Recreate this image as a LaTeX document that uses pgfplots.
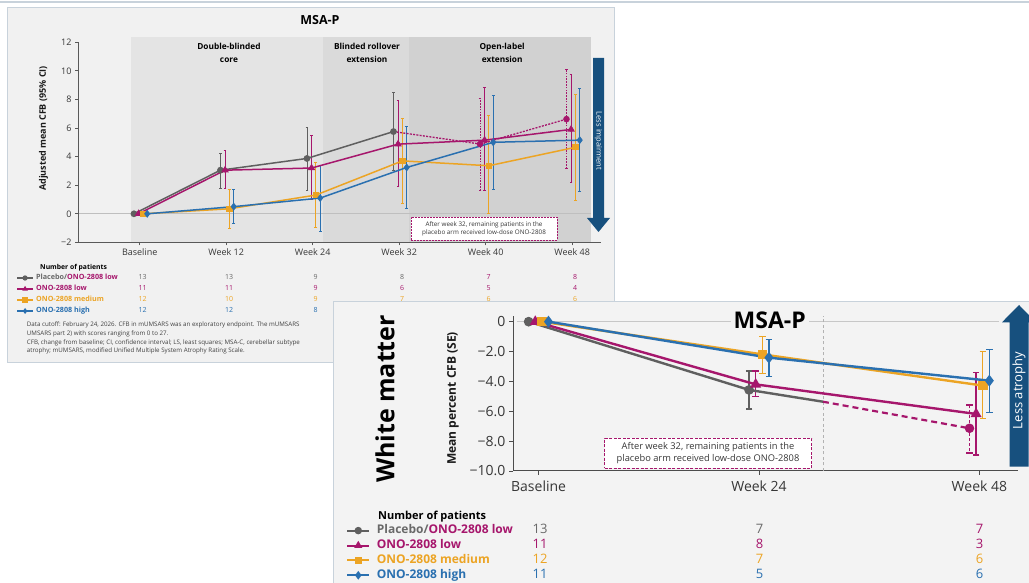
\documentclass[border=0pt]{standalone}
\usepackage{fontspec}
\setmainfont{Open Sans}
\usepackage{pgfplots}
\pgfplotsset{compat=1.18}
\definecolor{cgrey}{RGB}{95,95,95}
\definecolor{cmag}{RGB}{166,22,108}
\definecolor{corg}{RGB}{236,164,36}
\definecolor{cblu}{RGB}{42,112,176}
\definecolor{carr}{RGB}{23,80,126}
\definecolor{pbgA}{RGB}{241,241,241}
\definecolor{pbgB}{RGB}{243,243,243}
\definecolor{shA}{RGB}{228,228,228}
\definecolor{shB}{RGB}{218,218,218}
\definecolor{shC}{RGB}{209,209,209}
\definecolor{bord}{RGB}{200,210,219}
\definecolor{txt}{RGB}{55,55,55}
\definecolor{ltxt}{RGB}{105,105,105}
\pgfplotsset{
  errA/.style={/pgfplots/error bars/y dir=both, /pgfplots/error bars/y explicit,
    /pgfplots/error bars/error bar style={line width=0.8pt, solid},
    /pgfplots/error bars/error mark options={rotate=90, mark size=1.4pt, line width=0.8pt, solid}},
  errAd/.style={/pgfplots/error bars/y dir=both, /pgfplots/error bars/y explicit,
    /pgfplots/error bars/error bar style={line width=0.8pt, dash pattern=on 1.6pt off 1.2pt},
    /pgfplots/error bars/error mark options={rotate=90, mark size=1.4pt, line width=0.8pt, solid}},
  errB/.style={/pgfplots/error bars/y dir=both, /pgfplots/error bars/y explicit,
    /pgfplots/error bars/error bar style={line width=1.3pt, solid},
    /pgfplots/error bars/error mark options={rotate=90, mark size=3.2pt, line width=1.3pt, solid}},
  errBd/.style={/pgfplots/error bars/y dir=both, /pgfplots/error bars/y explicit,
    /pgfplots/error bars/error bar style={line width=1.3pt, dash pattern=on 3pt off 2pt},
    /pgfplots/error bars/error mark options={rotate=90, mark size=3.2pt, line width=1.3pt, solid}},
}
\begin{document}
\begin{tikzpicture}[x=1pt,y=1pt]
\path[use as bounding box] (0pt,0pt) rectangle (1029pt,583pt);
\fill[white] (0pt,0pt) rectangle (1029pt,583pt);
\draw[line width=1.5pt, color=bord] (0pt,581.2pt) -- (1029pt,581.2pt);
\filldraw[fill=pbgA, draw=bord, line width=0.9pt] (7pt,576pt) rectangle (614pt,221pt);

% ================= PANEL 1 =================
\begin{axis}[
  at={(78pt,340.6pt)}, anchor=south west, scale only axis,
  width=523pt, height=200.2pt,
  xmin=-0.713, xmax=5.333, ymin=-2, ymax=12,
  axis x line*=bottom, axis y line*=left,
  axis line style={draw=black!65, line width=0.8pt},
  xtick={0,...,5}, xticklabels={Baseline,Week 12,Week 24,Week 32,Week 40,Week 48},
  ytick={-2,0,2,4,6,8,10,12}, yticklabels={−2,0,2,4,6,8,10,12},
  tick align=outside, major tick length=3pt,
  tick style={draw=black!65, line width=0.7pt},
  tick label style={font=\fontsize{9}{10}\selectfont, text=txt},
  clip=false,
  legend style={at={(axis cs:-1.422,-4.245)}, anchor=north west, draw=none, fill=none,
     inner sep=0pt, outer sep=0pt, row sep=4pt, column sep=2.7pt,
     font=\fontsize{7.2}{8}\selectfont\bfseries,
     nodes={inner sep=0pt, text height=5.5pt, text depth=1.5pt}},
  legend cell align=left,
  legend image code/.code={\draw[#1, mark indices={2}, line width=1.2pt, mark size=2pt] plot coordinates {(0pt,0pt) (7.8pt,0pt) (15.6pt,0pt)};},
]
\fill[shA] (axis cs:-0.106,-1.96) rectangle (axis cs:2.125,12.35);
\fill[shB] (axis cs:2.125,-1.96) rectangle (axis cs:3.11,12.35);
\fill[shC] (axis cs:3.11,-1.96) rectangle (axis cs:5.22,12.35);
\draw[black!25, line width=0.7pt] (axis cs:-0.7,0) -- (axis cs:5.22,0);
\node[font=\fontsize{8.3}{12.5}\selectfont\bfseries, align=center] at (axis cs:1.032,11.24) {Double-blinded\\core};
\node[font=\fontsize{8.3}{12.5}\selectfont\bfseries, align=center] at (axis cs:2.628,11.24) {Blinded rollover\\extension};
\node[font=\fontsize{8.3}{12.5}\selectfont\bfseries, align=center] at (axis cs:4.19,11.24) {Open-label\\extension};

% error bars
\addplot[cgrey, only marks, mark=none, forget plot, errA] coordinates {
 (0.934,3.05) += (0,1.15) -= (0,1.25)
 (1.934,3.87) += (0,2.16) -= (0,2.21)
 (2.934,5.75) += (0,2.75) -= (0,2.75)};
\addplot[cmag, only marks, mark=none, forget plot, errAd] coordinates {
 (3.934,4.88) += (0,3.22) -= (0,3.23)
 (4.934,6.62) += (0,3.48) -= (0,3.47)};
\addplot[cmag, only marks, mark=none, forget plot, errA] coordinates {
 (0.987,3.05) += (0,1.35) -= (0,1.25)
 (1.987,3.20) += (0,2.25) -= (0,2.20)
 (2.987,4.87) += (0,3.03) -= (0,2.98)
 (3.987,5.15) += (0,3.68) -= (0,3.49)
 (4.987,5.90) += (0,3.82) -= (0,3.71)};
\addplot[corg, only marks, mark=none, forget plot, errA] coordinates {
 (1.037,0.35) += (0,1.35) -= (0,1.35)
 (2.037,1.31) += (0,2.29) -= (0,2.27)
 (3.037,3.70) += (0,2.99) -= (0,2.98)
 (4.037,3.36) += (0,3.49) -= (0,3.36)
 (5.037,4.65) += (0,3.72) -= (0,3.69)};
\addplot[cblu, only marks, mark=none, forget plot, errA] coordinates {
 (1.087,0.50) += (0,1.20) -= (0,1.20)
 (2.087,1.10) += (0,2.26) -= (0,2.34)
 (3.087,3.24) += (0,2.86) -= (0,2.84)
 (4.087,5.00) += (0,3.25) -= (0,3.32)
 (5.087,5.15) += (0,3.65) -= (0,3.55)};

% lines
\addplot[cmag, line width=1.3pt, dash pattern=on 2pt off 1.3pt, mark=*, mark size=2.6pt, mark options={solid}, mark indices={2,3}, forget plot] coordinates {
 (2.934,5.75) (3.934,4.88) (4.934,6.62)};
\addplot[cgrey, line width=1.5pt, mark=*, mark size=2.6pt] coordinates {
 (-0.066,0) (0.934,3.05) (1.934,3.87) (2.934,5.75)};
\addlegendentry{\textcolor{ltxt}{Placebo/}\textcolor{cmag}{ONO-2808 low}}
\addplot[cmag, line width=1.5pt, mark=triangle*, mark size=2.9pt] coordinates {
 (-0.013,0) (0.987,3.05) (1.987,3.20) (2.987,4.87) (3.987,5.15) (4.987,5.90)};
\addlegendentry{\textcolor{cmag}{ONO-2808 low}}
\addplot[corg, line width=1.5pt, mark=square*, mark size=2.4pt] coordinates {
 (0.037,0) (1.037,0.35) (2.037,1.31) (3.037,3.70) (4.037,3.36) (5.037,4.65)};
\addlegendentry{\textcolor{corg}{ONO-2808 medium}}
\addplot[cblu, line width=1.5pt, mark=diamond*, mark size=2.8pt] coordinates {
 (0.087,0) (1.087,0.50) (2.087,1.10) (3.087,3.24) (4.087,5.00) (5.087,5.15)};
\addlegendentry{\textcolor{cblu}{ONO-2808 high}}
\end{axis}

% panel 1 texts
\node[font=\fontsize{12.5}{14}\selectfont\bfseries] at (320pt,563pt) {MSA-P};
\node[rotate=90, font=\fontsize{9}{10}\selectfont\bfseries, text=black!90] at (43.5pt,454.5pt) {Adjusted mean CFB (95\% CI)};
\fill[carr] (593pt,525pt) -- (604pt,525pt) -- (604pt,365pt) -- (610pt,365pt) -- (598.5pt,351pt) -- (587pt,365pt) -- (593pt,365pt) -- cycle;
\node[rotate=-90, text=white, font=\fontsize{7.5}{8}\selectfont] at (598.5pt,442pt) {Less impairment};
\node[draw=cmag, dash pattern=on 2pt off 1pt, line width=0.8pt, fill=white, align=center, text=txt,
  font=\fontsize{6.3}{8.6}\selectfont, minimum width=146pt, minimum height=23pt, inner sep=1pt] at (484pt,354pt)
  {After week 32, remaining patients in the\\placebo arm received low-dose ONO-2808};
\node[anchor=base west, font=\fontsize{6.8}{8}\selectfont\bfseries] at (36.7pt,313pt) {Number of patients};
% numbers panel 1
\begin{scope}[every node/.style={anchor=base, font=\fontsize{7}{8}\selectfont}]
\node[text=ltxt] at (142.7pt,303pt) {13}; \node[text=ltxt] at (229.2pt,303pt) {13}; \node[text=ltxt] at (315.7pt,303pt) {9};
\node[text=ltxt] at (402.2pt,303pt) {8}; \node[text=cmag] at (488.7pt,303pt) {7}; \node[text=cmag] at (575.2pt,303pt) {8};
\node[text=cmag] at (142.7pt,292.4pt) {11}; \node[text=cmag] at (229.2pt,292.4pt) {11}; \node[text=cmag] at (315.7pt,292.4pt) {9};
\node[text=cmag] at (402.2pt,292.4pt) {6}; \node[text=cmag] at (488.7pt,292.4pt) {5}; \node[text=cmag] at (575.2pt,292.4pt) {4};
\node[text=corg] at (142.7pt,281.4pt) {12}; \node[text=corg] at (229.2pt,281.4pt) {10}; \node[text=corg] at (315.7pt,281.4pt) {9};
\node[text=corg] at (402.2pt,281.4pt) {7}; \node[text=corg] at (488.7pt,281.4pt) {6}; \node[text=corg] at (575.2pt,281.4pt) {6};
\node[text=cblu] at (142.7pt,270pt) {12}; \node[text=cblu] at (229.2pt,270pt) {12}; \node[text=cblu] at (315.7pt,270pt) {8};
\end{scope}
\begin{scope}[every node/.style={anchor=base west, font=\fontsize{6.2}{7}\selectfont, text=black!75, inner sep=0pt}]
\node at (26.7pt,256pt) {Data cutoff: February 24, 2026. CFB in mUMSARS was an exploratory endpoint. The mUMSARS};
\node at (26.7pt,247.4pt) {UMSARS part 2) with scores ranging from 0 to 27.};
\node at (26.7pt,238.8pt) {CFB, change from baseline; CI, confidence interval; LS, least squares; MSA-C, cerebellar subtype};
\node at (26.7pt,230.2pt) {atrophy; mUMSARS, modified Unified Multiple System Atrophy Rating Scale.};
\end{scope}

% ================= PANEL 2 =================
\fill[pbgB] (333pt,-2pt) rectangle (1031pt,281.3pt);
\draw[bord, line width=1pt] (333pt,-2pt) -- (333pt,281.3pt) -- (1031pt,281.3pt);

\begin{axis}[
  at={(513pt,112pt)}, anchor=south west, scale only axis,
  width=505pt, height=155.3pt,
  xmin=-0.116, xmax=2.175, ymin=-10, ymax=0.4,
  axis x line*=bottom, axis y line*=left,
  axis line style={draw=black!70, line width=1pt},
  xtick={0,1,2}, xticklabels={Baseline,Week 24,Week 48},
  ytick={-10,-8,...,0}, yticklabels={−10.0,−8.0,−6.0,−4.0,−2.0,0},
  tick align=outside, major tick length=4pt,
  tick style={draw=black!70, line width=0.9pt},
  tick label style={font=\fontsize{14}{16}\selectfont, text=txt},
  xticklabel style={yshift=-2pt},
  clip=false,
  legend style={at={(axis cs:-0.8717,-13.59)}, anchor=north west, draw=none, fill=none,
     inner sep=0pt, outer sep=0pt, row sep=2.9pt, column sep=6.7pt,
     font=\fontsize{12}{14}\selectfont\bfseries,
     nodes={inner sep=0pt, text height=9pt, text depth=3pt}},
  legend cell align=left,
  legend image code/.code={\draw[#1, mark indices={2}, line width=2pt, mark size=2.7pt] plot coordinates {(0pt,0pt) (10.85pt,0pt) (21.7pt,0pt)};},
]
\draw[black!22, line width=1.5pt] (axis cs:-0.1,0) -- (axis cs:2.09,0);
\draw[black!30, line width=0.8pt, dash pattern=on 3pt off 2.5pt] (axis cs:1.29,-10) -- (axis cs:1.29,0.4);

\addplot[cgrey, only marks, mark=none, forget plot, errB] coordinates {
 (0.955,-4.57) += (0,1.27) -= (0,1.28)};
\addplot[cmag, only marks, mark=none, forget plot, errBd] coordinates {
 (1.955,-7.14) += (0,1.56) -= (0,1.66)};
\addplot[cmag, only marks, mark=none, forget plot, errB] coordinates {
 (0.985,-4.20) += (0,0.90) -= (0,0.82)
 (1.985,-6.18) += (0,2.77) -= (0,2.75)};
\addplot[corg, only marks, mark=none, forget plot, errB] coordinates {
 (1.015,-2.19) += (0,1.19) -= (0,1.27)
 (2.015,-4.28) += (0,2.28) -= (0,2.19)};
\addplot[cblu, only marks, mark=none, forget plot, errB] coordinates {
 (1.045,-2.41) += (0,1.23) -= (0,1.27)
 (2.045,-3.95) += (0,2.10) -= (0,2.12)};

\addplot[cmag, line width=2.2pt, dash pattern=on 6pt off 4pt, mark=*, mark size=3.6pt, mark options={solid}, mark indices={2}, forget plot] coordinates {
 (1.29,-5.36) (1.955,-7.14)};
\addplot[cgrey, line width=2.4pt, mark=*, mark size=3.6pt, mark indices={1,2}] coordinates {
 (-0.045,0) (0.955,-4.57) (1.29,-5.36)};
\addlegendentry{\textcolor{ltxt}{Placebo/}\textcolor{cmag}{ONO-2808 low}}
\addplot[cmag, line width=2.4pt, mark=triangle*, mark size=4pt] coordinates {
 (-0.015,0) (0.985,-4.20) (1.985,-6.18)};
\addlegendentry{\textcolor{cmag}{ONO-2808 low}}
\addplot[corg, line width=2.4pt, mark=square*, mark size=3.6pt] coordinates {
 (0.015,0) (1.015,-2.19) (2.015,-4.28)};
\addlegendentry{\textcolor{corg}{ONO-2808 medium}}
\addplot[cblu, line width=2.4pt, mark=diamond*, mark size=4pt] coordinates {
 (0.045,0) (1.045,-2.41) (2.045,-3.95)};
\addlegendentry{\textcolor{cblu}{ONO-2808 high}}
\end{axis}

\node[fill=pbgB, inner sep=3pt, font=\fontsize{23}{26}\selectfont\bfseries] at (769.7pt,263pt) {MSA-P};
\node[rotate=90, font=\fontsize{25}{28}\selectfont\bfseries] at (385pt,184pt) {White matter};
\node[rotate=90, font=\fontsize{12}{14}\selectfont\bfseries, text=black!90] at (453pt,184.5pt) {Mean percent CFB (SE)};
\fill[carr] (1009.5pt,116.3pt) -- (1009.5pt,260.7pt) -- (1002pt,260.7pt) -- (1019pt,278pt) -- (1036pt,260.7pt) -- (1028.5pt,260.7pt) -- (1028.5pt,116.3pt) -- cycle;
\node[rotate=90, text=white, font=\fontsize{13}{14}\selectfont] at (1019pt,192.5pt) {Less atrophy};
\node[draw=cmag, dash pattern=on 3pt off 1.5pt, line width=1.2pt, fill=white, align=center, text=txt,
  font=\fontsize{9.3}{12.5}\selectfont, minimum width=207pt, minimum height=30pt, inner sep=1pt] at (708pt,129.7pt)
  {After week 32, remaining patients in the\\placebo arm received low-dose ONO-2808};
\node[anchor=base west, font=\fontsize{11}{12}\selectfont\bfseries] at (374.7pt,63.3pt) {Number of patients};
\begin{scope}[every node/.style={anchor=base, font=\fontsize{13}{14}\selectfont}]
\node[text=ltxt] at (540pt,49.4pt) {13}; \node[text=ltxt] at (759.5pt,49.4pt) {7}; \node[text=cmag] at (979.5pt,49.4pt) {7};
\node[text=cmag] at (540pt,34.5pt) {11}; \node[text=cmag] at (759.5pt,34.5pt) {8}; \node[text=cmag] at (979.5pt,34.5pt) {3};
\node[text=corg] at (540pt,19.6pt) {12}; \node[text=corg] at (759.5pt,19.6pt) {7}; \node[text=corg] at (979.5pt,19.6pt) {6};
\node[text=cblu] at (540pt,4.7pt) {11}; \node[text=cblu] at (759.5pt,4.7pt) {5}; \node[text=cblu] at (979.5pt,4.7pt) {6};
\end{scope}
\end{tikzpicture}
\end{document}
